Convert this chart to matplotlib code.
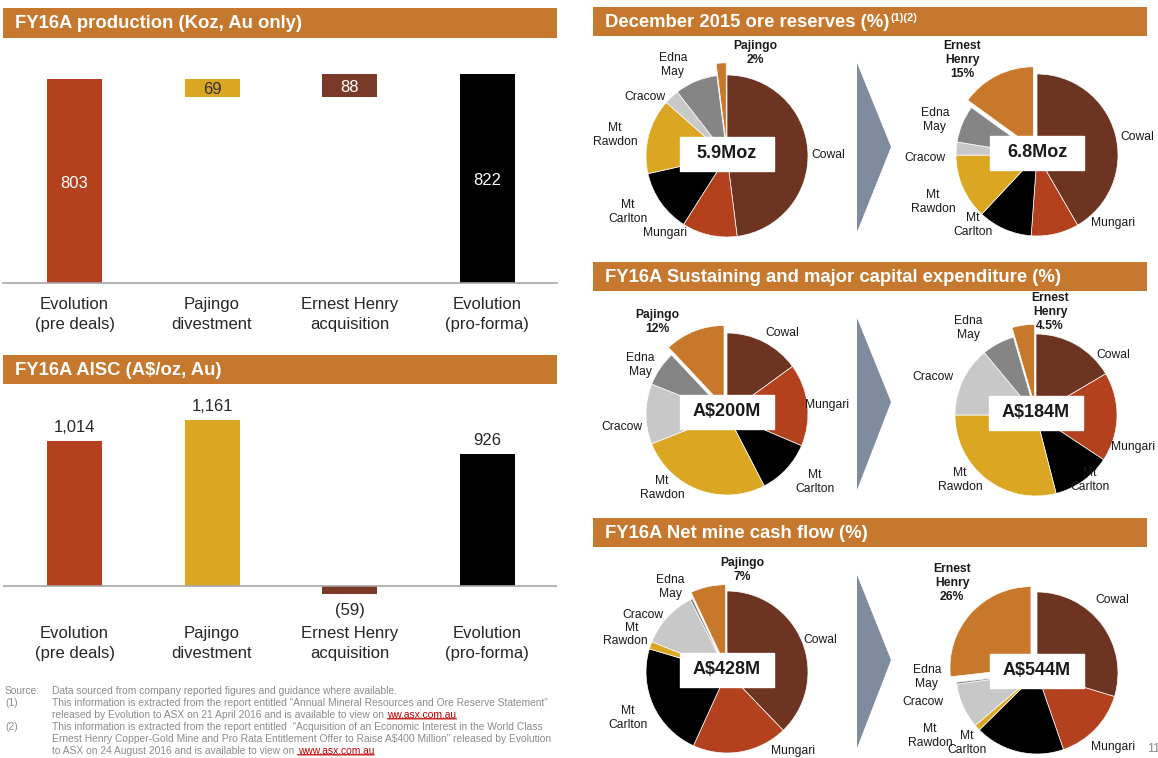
import numpy as np
import matplotlib
matplotlib.use('Agg')
import matplotlib.pyplot as plt
from matplotlib.patches import Rectangle, Polygon

plt.rcParams['font.family'] = ['Liberation Sans', 'DejaVu Sans']
plt.rcParams['text.parse_math'] = False

W, H = 1158, 758

# ---- data ----
categories = ['Evolution\n(pre deals)', 'Pajingo\ndivestment',
              'Ernest Henry\nacquisition', 'Evolution\n(pro-forma)']
production = [803, -69, 88, 822]      # Koz, Au only
aisc = [1014, 1161, -59, 926]         # A$/oz
bar_colors = ['#B3411E', '#DBA621', '#7A3A27', '#000000']
prod_text_colors = ['white', '#333333', 'white', 'white']

pie_names = ['Cowal', 'Mungari', 'Mt Carlton', 'Mt Rawdon', 'Cracow', 'Edna May', 'Pajingo / Ernest Henry']
reserves_before = [48, 11, 12.5, 15, 3, 8.5, 2]
reserves_after = [41.6, 9.5, 10.8, 13, 2.6, 7.4, 15]
capex_before = [15, 16.4, 11, 26.6, 12, 7, 12]
capex_after = [16.5, 17.8, 11.7, 29, 14, 6.5, 4.5]
cash_before = [37.8, 19, 22.8, 1.5, 11.4, 0.5, 7]
cash_after = [29.7, 15, 17.9, 1.2, 9, 0.4, 26.8]
pie_totals = ['5.9Moz', '6.8Moz', 'A$200M', 'A$184M', 'A$428M', 'A$544M']
pie_colors = ['#6E3422', '#B3411E', '#000000', '#DBA621', '#C8C8C8', '#858585', '#C8782B']

HEAD = '#C6782E'
GREY = '#8C8C8C'


def rect(x, y, w, h):
    # pixel box (top-left origin) -> figure fraction
    return [x / W, 1 - (y + h) / H, w / W, h / H]


fig = plt.figure(figsize=(W / 100, H / 100), dpi=100)
fig.patch.set_facecolor('white')

# overlay in pixel coords for headers, arrows, notes
ov = fig.add_axes([0, 0, 1, 1], zorder=5)
ov.set_xlim(0, W)
ov.set_ylim(H, 0)
ov.axis('off')
ov.patch.set_alpha(0)


def header(x, y, w, h, text):
    ov.add_patch(Rectangle((x, y), w, h, color=HEAD, lw=0))
    return ov.text(x + 12, y + h / 2 + 1, text, color='white', fontsize=13.3,
                   fontweight='bold', va='center', ha='left')


header(3, 8, 554, 30, 'FY16A production (Koz, Au only)')
header(3, 355, 554, 29, 'FY16A AISC (A$/oz, Au)')
h1 = header(593, 7, 554, 29, 'December 2015 ore reserves (%)')
ov.annotate('(1)(2)', xy=(1, 0.45), xycoords=h1, xytext=(1, 0), textcoords='offset points',
            color='white', fontsize=8, fontweight='bold', va='bottom', ha='left')
header(593, 262, 554, 29, 'FY16A Sustaining and major capital expenditure (%)')
header(593, 518, 554, 29, 'FY16A Net mine cash flow (%)')

# ---- production waterfall ----
x = np.arange(len(categories))
run = np.cumsum(production[:3])
bottoms = [0, run[1], run[1], 0]
heights = [production[0], -production[1], production[2], production[3]]

ax1 = fig.add_axes(rect(3, 40, 554, 243))
ax1.bar(x, heights, bottom=bottoms, width=0.4, color=bar_colors)
for i in range(len(x)):
    ax1.text(x[i], bottoms[i] + heights[i] / 2 - 8, str(abs(production[i])), ha='center', va='center',
             fontsize=12, color=prod_text_colors[i])
ax1.axhline(0, color='#A6A6A6', lw=1.2, clip_on=False)
ax1.set_xlim(-0.52, 3.509)
ax1.set_ylim(0, 957)
ax1.set_yticks([])
ax1.set_xticks(x, categories, fontsize=12, color='#262626', linespacing=1.4)
ax1.tick_params(axis='x', length=0, pad=10)
for s in ax1.spines.values():
    s.set_visible(False)
ax1.patch.set_alpha(0)

# ---- AISC ----
ax2 = fig.add_axes(rect(3, 390, 554, 210))
ax2.bar(x, aisc, width=0.4, color=bar_colors)
for i, v in enumerate(aisc):
    if v >= 0:
        ax2.annotate(f'{v:,}', (x[i], v), xytext=(0, 4), textcoords='offset points',
                     ha='center', va='bottom', fontsize=12, color='#262626')
    else:
        ax2.annotate(f'({-v})', (x[i], v), xytext=(0, -6), textcoords='offset points',
                     ha='center', va='top', fontsize=12, color='#262626')
ax2.axhline(0, color='#A6A6A6', lw=1.2)
ax2.set_xlim(-0.52, 3.509)
ax2.set_ylim(-14 / 0.143, 196 / 0.143)
ax2.set_yticks([])
ax2.set_xticks(x, categories, fontsize=12, color='#262626', linespacing=1.4)
ax2.tick_params(axis='x', length=0, pad=19)
for s in ax2.spines.values():
    s.set_visible(False)
ax2.patch.set_alpha(0)

# ---- pies ----
ore_before_labels = [('Pajingo\n2%', 755, 53, True), ('Edna\nMay', 673, 65, False),
                     ('Cracow', 645, 97, False), ('Mt\nRawdon', 615, 135, False),
                     ('Cowal', 828, 155, False), ('Mt\nCarlton', 628, 212, False),
                     ('Mungari', 665, 233, False)]
ore_after_labels = [('Ernest\nHenry\n15%', 962, 60, True), ('Edna\nMay', 935, 120, False),
                    ('Cracow', 925, 158, False), ('Mt\nRawdon', 933, 202, False),
                    ('Mt\nCarlton', 973, 225, False), ('Cowal', 1137, 137, False),
                    ('Mungari', 1113, 223, False)]
capex_before_labels = [('Pajingo\n12%', 657, 322, True), ('Cowal', 782, 333, False),
                       ('Edna\nMay', 640, 365, False), ('Mungari', 827, 405, False),
                       ('Cracow', 622, 427, False), ('Mt\nCarlton', 815, 482, False),
                       ('Mt\nRawdon', 662, 488, False)]
capex_after_labels = [('Ernest\nHenry\n4.5%', 1050, 312, True), ('Edna\nMay', 968, 328, False),
                      ('Cowal', 1113, 355, False), ('Cracow', 933, 377, False),
                      ('Mungari', 1133, 447, False), ('Mt\nCarlton', 1090, 480, False),
                      ('Mt\nRawdon', 960, 480, False)]
cash_before_labels = [('Pajingo\n7%', 742, 570, True), ('Edna\nMay', 670, 587, False),
                      ('Cracow', 643, 615, False), ('Mt', 632, 628, False),
                      ('Rawdon', 625, 641, False), ('Cowal', 820, 640, False),
                      ('Mt\nCarlton', 628, 718, False), ('Mungari', 793, 751, False)]
cash_after_labels = [('Ernest\nHenry\n26%', 952, 583, True), ('Cowal', 1112, 600, False),
                     ('Edna\nMay', 927, 677, False), ('Cracow', 923, 702, False),
                     ('Mt\nRawdon', 930, 736, False), ('Mt\nCarlton', 967, 743, False),
                     ('Mungari', 1113, 747, False)]

pies = [
    (reserves_before, 727, 156, 0.15, ore_before_labels),
    (reserves_after, 1037, 155, 0.10, ore_after_labels),
    (capex_before, 727, 414, 0.10, capex_before_labels),
    (capex_after, 1036, 415, 0.12, capex_after_labels),
    (cash_before, 727, 672, 0.08, cash_before_labels),
    (cash_after, 1037, 673, 0.10, cash_after_labels),
]

R = 81
size = 250
for k, (vals, cx, cy, ex, labs) in enumerate(pies):
    ax = fig.add_axes(rect(cx - size / 2, cy - size / 2, size, size))
    explode = [0] * (len(vals) - 1) + [ex]
    ax.pie(vals, colors=pie_colors, startangle=90, counterclock=False, explode=explode,
           wedgeprops=dict(edgecolor='white', linewidth=0.5))
    lim = size / 2 / R
    ax.set_xlim(-lim, lim)
    ax.set_ylim(-lim, lim)
    ax.set_aspect('equal')
    ax.axis('off')
    bw, bh = 94 / R, 34 / R
    ax.add_patch(Rectangle((-bw / 2, -bh / 2 + 0.03), bw, bh, color='white', zorder=3))
    ax.text(0, 0.03, pie_totals[k], ha='center', va='center', fontsize=13,
            fontweight='bold', color='#1a1a1a', zorder=4)
    for txt, px, py, bold in labs:
        ov.text(px, py, txt, ha='center', va='center', fontsize=8.7, linespacing=1.2,
                fontweight='bold' if bold else 'normal', color='#1a1a1a')

# chevrons
for top, tip, bot in [(63, 147, 232), (318, 402, 490), (575, 660, 748)]:
    ov.add_patch(Polygon([(857, top), (891, tip), (857, bot)], closed=True,
                         color='#7F8B9F', lw=0))

# ---- footnotes ----
fs = 7.4
notes = [
    ('Source:', 'Data sourced from company reported figures and guidance where available.', None),
    ('(1)', 'This information is extracted from the report entitled \u201cAnnual Mineral Resources and Ore Reserve Statement\u201d', None),
    ('', 'released by Evolution to ASX on 21 April 2016 and is available to view on', 'ww.asx.com.au'),
    ('(2)', 'This information is extracted from the report entitled  \u201cAcquisition of an Economic Interest in the World Class', None),
    ('', 'Ernest Henry Copper-Gold Mine and Pro Rata Entitlement Offer to Raise A$400 Million\u201d released by Evolution', None),
    ('', 'to ASX on 24 August 2016 and is available to view on', 'www.asx.com.au'),
]
for j, (tag, body, link) in enumerate(notes):
    y = 691 + j * 12
    if tag:
        ov.text(5, y, tag, fontsize=fs, color=GREY, va='center')
    t = ov.text(52, y, body, fontsize=fs, color=GREY, va='center')
    if link:
        lk = ov.annotate(link, xy=(1, 0), xycoords=t, xytext=(2.5, 0), textcoords='offset points',
                         fontsize=fs, color='#C00000', va='bottom', ha='left')
        ov.annotate('', xy=(0, 0.12), xycoords=lk, xytext=(1, 0.12), textcoords=lk,
                    arrowprops=dict(arrowstyle='-', color='#C00000', lw=0.9,
                                    shrinkA=0, shrinkB=0))

ov.text(1147, 749, '11', fontsize=9, color=GREY, va='center', ha='left')

fig.savefig('out.png', dpi=100)
